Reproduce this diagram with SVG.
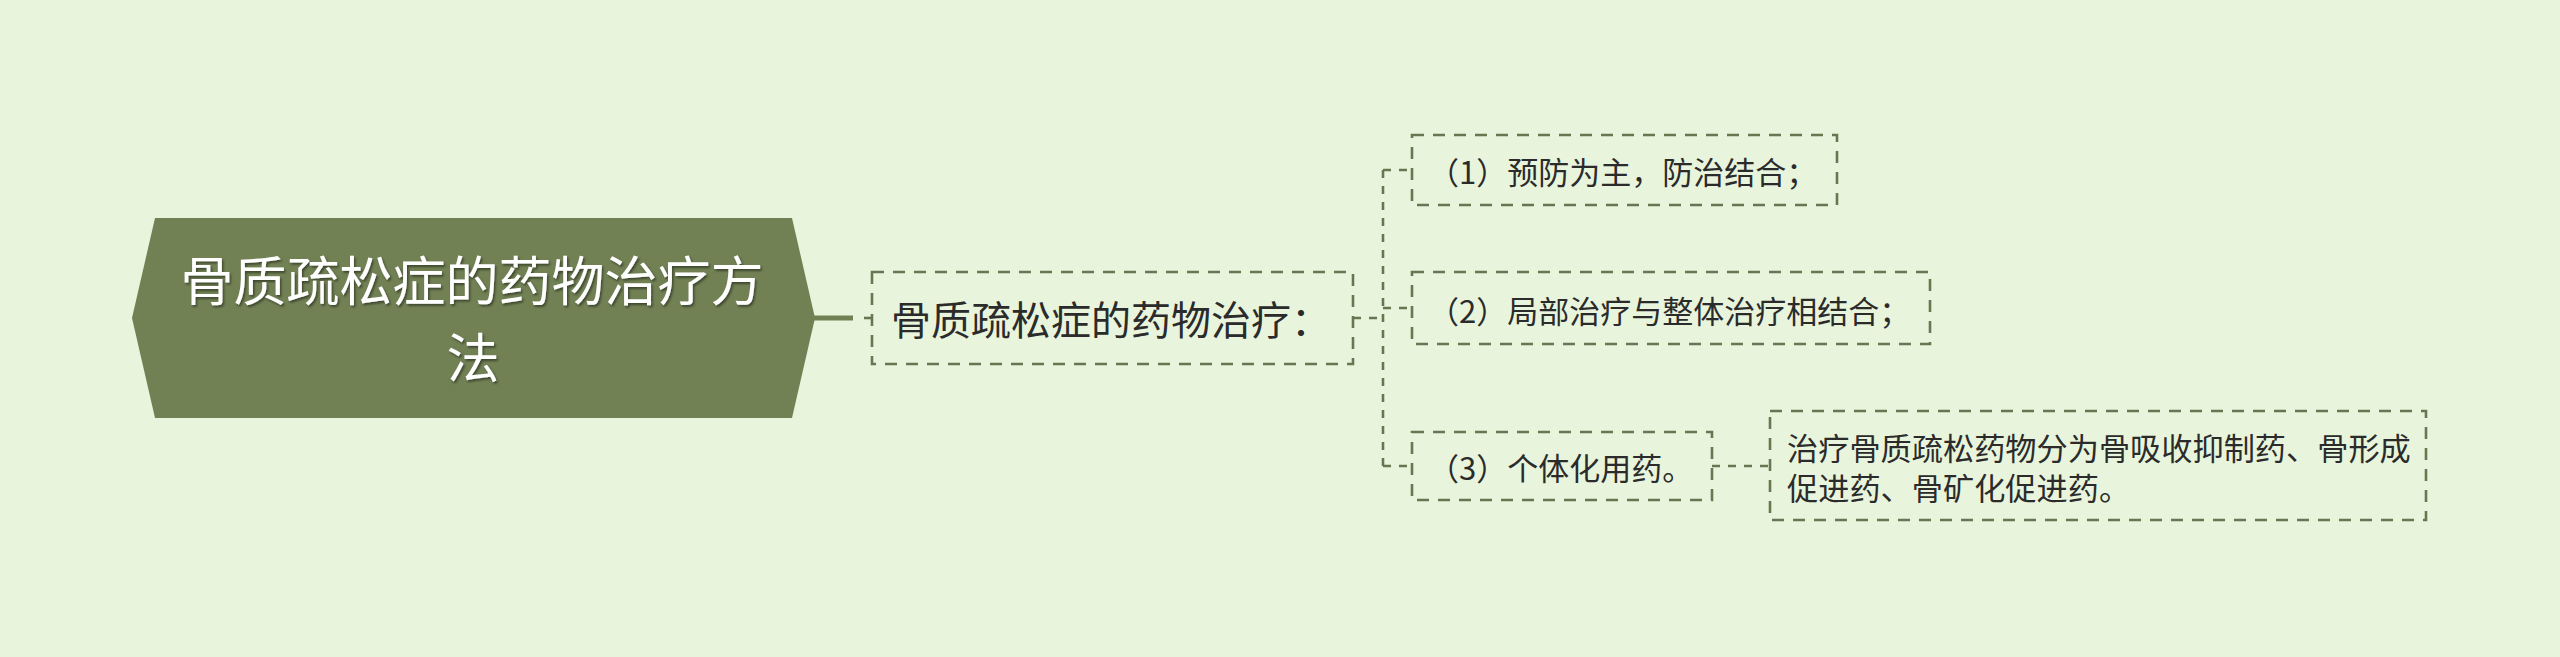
<svg xmlns="http://www.w3.org/2000/svg" width="2560" height="657" viewBox="0 0 2560 657">
<defs>
<style>
.bg{fill:#e8f5dc}
.box{fill:none;stroke:#687652;stroke-width:2.6;stroke-dasharray:12 9}
.con{fill:none;stroke:#687652;stroke-width:2.6;stroke-dasharray:8 8}
.solid{fill:none;stroke:#718154;stroke-width:5}
.t{font-family:"Noto Sans CJK SC","Noto Sans",sans-serif;fill:#2b2b2b}
.rt{font-family:"Noto Sans CJK SC","Noto Sans",sans-serif;fill:#ffffff;font-size:53px;text-anchor:middle}
</style>
<filter id="sh" x="-10%" y="-20%" width="120%" height="140%">
<feDropShadow dx="1.5" dy="2" stdDeviation="1" flood-color="#000" flood-opacity="0.45"/>
</filter>
</defs>
<rect class="bg" x="0" y="0" width="2560" height="657"/>
<g id="connectors">
<line class="solid" x1="813" y1="318" x2="853" y2="318"/>
<line class="con" x1="864" y1="318" x2="872" y2="318"/>
<path class="con" d="M1353,318 H1383"/>
<path class="con" d="M1383,170 V466"/>
<path class="con" d="M1383,170 H1412"/>
<path class="con" d="M1383,308 H1412"/>
<path class="con" d="M1383,466 H1412"/>
<path class="con" d="M1712,466 H1770"/>
</g>
<g id="root">
<polygon points="132,318 155,218 792,218 815,318 792,418 155,418" fill="#718154"/>
<text class="rt" filter="url(#sh)"><tspan x="472" y="301">骨质疏松症的药物治疗方</tspan><tspan x="473" y="378">法</tspan></text>
</g>
<g id="child">
<rect class="box" x="872" y="272" width="481" height="92"/>
<text class="t" x="891" y="335" font-size="40">骨质疏松症的药物治疗：</text>
</g>
<g id="item1">
<rect class="box" x="1412" y="135" width="425" height="70"/>
<text class="t" x="1428" y="184" font-size="31">（1）预防为主，防治结合；</text>
</g>
<g id="item2">
<rect class="box" x="1412" y="272" width="518" height="72"/>
<text class="t" x="1428" y="323" font-size="31">（2）局部治疗与整体治疗相结合；</text>
</g>
<g id="item3">
<rect class="box" x="1412" y="432" width="300" height="68"/>
<text class="t" x="1428" y="480" font-size="31">（3）个体化用药。</text>
</g>
<g id="detail">
<rect class="box" x="1770" y="411" width="656" height="109"/>
<text class="t" font-size="31.2"><tspan x="1787" y="460">治疗骨质疏松药物分为骨吸收抑制药、骨形成</tspan><tspan x="1787" y="500">促进药、骨矿化促进药。</tspan></text>
</g>
</svg>
